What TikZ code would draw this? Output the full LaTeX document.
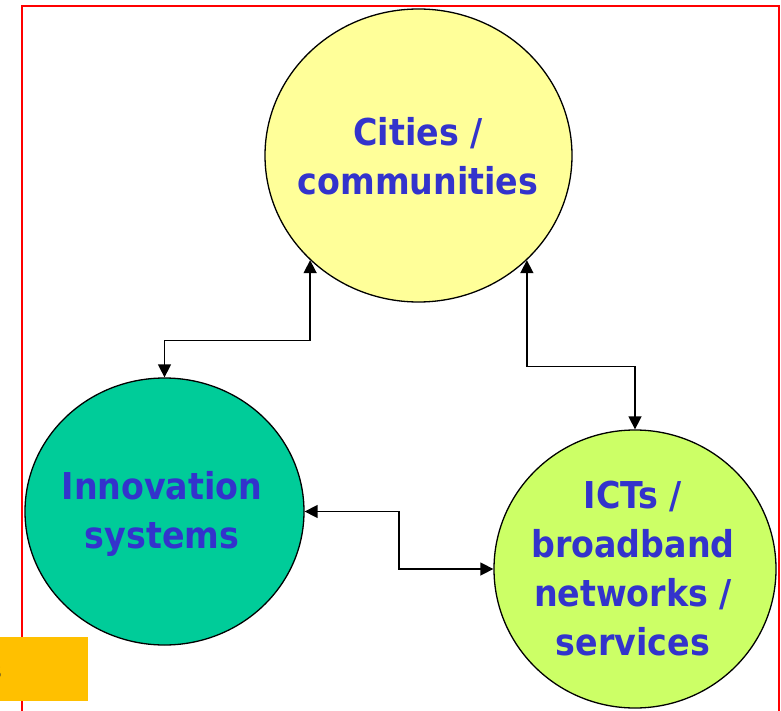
\documentclass[tikz,border=0pt]{standalone}
\usepackage{fontspec}
\newfontfamily\lblfont{DejaVu Sans Condensed}
\usetikzlibrary{shapes.geometric,arrows.meta}
\definecolor{txtblue}{RGB}{51,51,204}
\definecolor{cyellow}{RGB}{255,255,153}
\definecolor{cgreen}{RGB}{0,204,153}
\definecolor{clime}{RGB}{204,255,102}
\definecolor{corange}{RGB}{255,192,0}
\definecolor{cred}{RGB}{255,0,0}
\tikzset{
  bubble/.style={ellipse, draw=black, line width=1.3pt, inner sep=0pt},
  bubbletext/.style={align=center, inner sep=0pt, text=txtblue,
    font=\lblfont\bfseries\fontsize{37}{49}\selectfont},
  link/.style={line width=1.5pt, draw=black,
    {Triangle[length=13pt,width=13pt]}-{Triangle[length=13pt,width=13pt]}}
}
\begin{document}
\begin{tikzpicture}[x=1pt,y=-1pt]
\useasboundingbox (0,0) rectangle (781,711);
\draw[cred, line width=2pt] (21.7,725) -- (21.7,6) -- (779,6) -- (779,725);
\node[bubble, fill=cyellow, minimum width=307pt, minimum height=293pt] (yellow) at (418.5,155.5) {};
\node[bubble, fill=cgreen, minimum width=279pt, minimum height=267pt] (green) at (164.5,511.5) {};
\node[bubble, fill=clime, minimum width=282pt, minimum height=278pt] (lime) at (635,569) {};
\node[bubbletext] (yellowtext) at (418,156) {Cities /\\communities};
\node[bubbletext] (greentext) at (162,514) {Innovation\\systems};
\node[bubbletext] (limetext) at (633,569) {ICTs /\\broadband\\networks /\\services};
\coordinate (h1) at (0,340.7);
\coordinate (h2) at (0,366.7);
\coordinate (v3) at (399,0);
\draw[link] (yellow.224) -- (yellow.224 |- h1) -| (green.north);
\draw[link] (yellow.-44) -- (yellow.-44 |- h2) -| (lime.north);
\draw[link] (green.east) -| (v3 |- lime.west) -- (lime.west);
\node[fill=corange, minimum width=88pt, minimum height=64pt, inner sep=0pt, anchor=north west] (tag) at (0,637) {};
\node[anchor=east, inner sep=0pt, font=\lblfont\fontsize{22}{26}\selectfont, text=black!80] (cut) at (2,672) {s};
\end{tikzpicture}
\end{document}
